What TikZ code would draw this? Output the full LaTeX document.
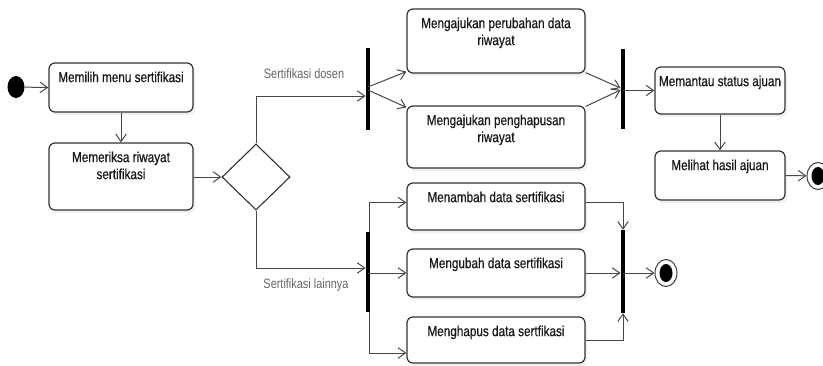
\documentclass[tikz,border=0pt]{standalone}
\usepackage{fontspec}
\setmainfont{Liberation Sans}[FakeStretch=0.81]
\newfontfamily\boxfont{Liberation Sans}[FakeStretch=0.81,FakeBold=0.6]
\usetikzlibrary{shapes.geometric,arrows.meta,shadows,calc}
\begin{document}
\begin{tikzpicture}[x=1pt,y=-1pt,
  font=\fontsize{14.5}{17}\selectfont,
  act/.style={draw=black!80, line width=1.2pt, rounded corners=6pt, fill=white, inner sep=0pt,
    drop shadow={opacity=0.12, shadow xshift=2pt, shadow yshift=-3pt}},
  txt/.style={anchor=north, inner sep=0pt, align=center, text=black!90, yshift=-9pt,
    font=\boxfont\fontsize{14.5}{17}\selectfont},
  bar/.style={fill=black, draw=none, minimum width=4.5pt, inner sep=0pt},
  flow/.style={draw=black!72, line width=1pt, -{Straight Barb[length=7.5pt,width=10.5pt]}},
  guard/.style={text=black!60, font=\fontsize{13.5}{16}\selectfont, inner sep=0pt}
]
\useasboundingbox (0,0) rectangle (823,365);

% start
\node[ellipse, fill=black, minimum width=17pt, minimum height=22pt, inner sep=0pt] (init) at (16,87) {};

% actions
\node[act, minimum width=144pt, minimum height=49pt, label={[txt]north:Memilih menu sertifikasi}] (b1) at (121,87.5) {};
\node[act, minimum width=144pt, minimum height=67pt, label={[txt]north:Memeriksa riwayat\\sertifikasi}] (b2) at (121,176.5) {};
\node[act, minimum width=178pt, minimum height=64pt, label={[txt]north:Mengajukan perubahan data\\riwayat}] (A) at (496,41) {};
\node[act, minimum width=178pt, minimum height=62pt, label={[txt]north:Mengajukan penghapusan\\riwayat}] (B) at (496,137) {};
\node[act, minimum width=130pt, minimum height=47pt, label={[txt]north:Memantau status ajuan}] (M1) at (720,90.5) {};
\node[act, minimum width=130pt, minimum height=49pt, label={[txt]north:Melihat hasil ajuan}] (M2) at (720,175.5) {};
\node[act, minimum width=178pt, minimum height=47pt, label={[txt]north:Menambah data sertifikasi}] (C) at (496,206.5) {};
\node[act, minimum width=178pt, minimum height=48pt, label={[txt]north:Mengubah data sertifikasi}] (D) at (496,273) {};
\node[act, minimum width=178pt, minimum height=46pt, label={[txt]north:Menghapus data sertfikasi}] (E) at (496,340) {};

% decision
\node[diamond, draw=black!80, line width=1.1pt, fill=white, minimum width=68pt, minimum height=66pt, inner sep=0pt] (dia) at (256,177) {};

% bars
\node[bar, minimum height=82pt] (bar1) at (368,89) {};
\node[bar, minimum height=80pt] (bar2) at (623,89) {};
\node[bar, minimum height=80pt] (bar3) at (368,272) {};
\node[bar, minimum height=83pt] (bar4) at (623,271.5) {};

% finals
\node[ellipse, draw=black!75, line width=1pt, fill=white, minimum width=22pt, minimum height=27pt, inner sep=0pt] (fin1) at (818,176) {};
\fill (fin1.center) ellipse (6.5 and 9);
\node[ellipse, draw=black!75, line width=1pt, fill=white, minimum width=22pt, minimum height=27pt, inner sep=0pt] (fin2) at (666,273) {};
\fill (fin2.center) ellipse (6.5 and 9);

% guards
\node[guard] (g1) at (304,74) {Sertifikasi dosen};
\node[guard] (g2) at (306,285) {Sertifikasi lainnya};

% flows
\draw[flow] (init) -- (b1.west);
\draw[flow] (b1.south) -- (b2.north);
\draw[flow] (b2.east |- dia.west) -- (dia.west);
\draw[flow] (dia.north) |- (bar1.west |- 0,96);
\draw[flow] (bar1.center |- 0,87) -- ([yshift=2pt]A.south west);
\draw[flow] (bar1.center |- 0,90) -- ([yshift=-2pt]B.north west);
\draw[flow] ([yshift=1pt]A.south east) -- (bar2.west |- 0,88);
\draw[flow] ([yshift=-1pt]B.north east) -- (bar2.west |- 0,90);
\draw[flow] (bar2.center |- M1.west) -- (M1.west);
\draw[flow] (M1.south) -- (M2.north);
\draw[flow] (M2.east) -- (fin1);
\draw[flow] (dia.south) |- (bar3.west |- 0,268);
\draw[flow] ([xshift=1pt]bar3.north) |- ([yshift=4pt]C.west);
\draw[flow] (bar3.center |- D.west) -- (D.west);
\draw[flow] ([xshift=1pt]bar3.south) |- (E.west |- 0,353);
\draw[flow] ([yshift=4pt]C.east) -| (bar4.north);
\draw[flow] (D.east) -- (bar4.west |- D.east);
\draw[flow] (E.east) -| (bar4.south);
\draw[flow] (bar4.center |- fin2) -- (fin2);
\end{tikzpicture}
\end{document}
